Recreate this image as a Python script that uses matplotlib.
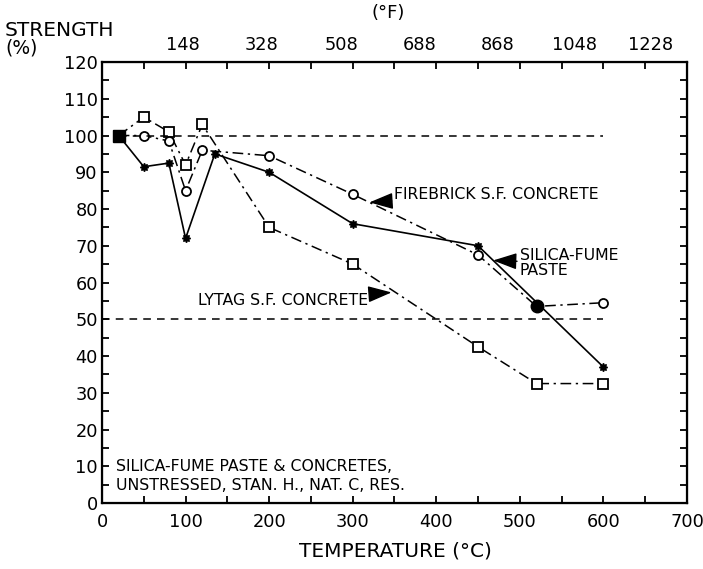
import numpy as np
import matplotlib.pyplot as plt

plt.rcParams['font.family'] = ['DejaVu Sans']

# residual strength (%) vs. exposure temperature (deg C)
temps = [20, 50, 80, 100, 120, 200, 300, 450, 520, 600]
lytag = [100, 105, 101, 92, 103, 75, 65, 42.5, 32.5, 32.5]
firebrick = [100, 100, 98.5, 85, 96, 94.5, 84, 67.5, 53.5, 54.5]

paste_temps = [20, 50, 80, 100, 135, 200, 300, 450, 600]
paste = [100, 91.5, 92.5, 72, 95, 90, 76, 70, 37]

# top scale labels (deg F) and where they sit on the deg C axis
f_labels = ['148', '328', '508', '688', '868', '1048', '1228']
f_pos = [97, 191, 287, 380, 474, 565, 656]

fig = plt.figure(figsize=(7.03, 5.69), dpi=100)
ax = fig.add_axes([0.1451, 0.116, 0.8321, 0.775])

dashdot = (7, 3, 1.5, 3)
ax.plot(temps, lytag, color='k', lw=1.1, dashes=dashdot, marker='s', ms=6.5,
        mfc='white', mec='k', mew=1.3)
ax.plot(temps, firebrick, color='k', lw=1.1, dashes=dashdot, marker='o', ms=6.5,
        mfc='white', mec='k', mew=1.3)
ax.plot(paste_temps, paste, color='k', lw=1.2, marker=(8, 1, 0), ms=6)
# filled markers where the curves coincide
ax.plot(temps[0], lytag[0], 's', color='k', ms=9)
ax.plot(temps[8], firebrick[8], 'o', color='k', ms=9)

# reference levels
ax.plot([20, 600], [100, 100], color='k', lw=1.1, dashes=(5, 4))
ax.plot([0, 600], [50, 50], color='k', lw=1.1, dashes=(5, 4))

arrow = dict(arrowstyle='-|>,head_length=1.3,head_width=0.45', color='k',
             lw=1.0, shrinkA=0, shrinkB=0)
fs = 11.3
ax.annotate('FIREBRICK S.F. CONCRETE', xy=(320, 81.8), xytext=(350, 84),
            fontsize=fs, va='center', ha='left', arrowprops=arrow)
ax.annotate('SILICA-FUME\nPASTE', xy=(468, 66), xytext=(500, 65.3),
            fontsize=fs, va='center', ha='left', linespacing=1.05,
            arrowprops=arrow)
ax.annotate('LYTAG S.F. CONCRETE', xy=(346.5, 57.3), xytext=(318, 55),
            fontsize=fs, va='center', ha='right', arrowprops=arrow)
ax.text(17, 7.35, 'SILICA-FUME PASTE & CONCRETES,\nUNSTRESSED, STAN. H., NAT. C, RES.',
        fontsize=fs, va='center', ha='left', linespacing=1.27)

ax.set_xlim(0, 700)
ax.set_ylim(0, 120)
ax.set_xticks(np.arange(0, 701, 100))
ax.set_xticks(np.arange(50, 700, 100), minor=True)
ax.set_yticks(np.arange(0, 121, 10))
ax.set_yticks(np.arange(5, 120, 10), minor=True)
ax.tick_params(which='both', direction='in', length=5, width=1.3,
               labelsize=12.8, right=True)
ax.tick_params(axis='x', pad=7)
ax.tick_params(axis='y', pad=3)
for s in ax.spines.values():
    s.set_linewidth(1.6)

top = ax.twiny()
top.set_xlim(ax.get_xlim())
top.set_xticks(f_pos)
top.set_xticklabels(f_labels)
top.set_xticks(np.arange(50, 700, 50), minor=True)
top.tick_params(axis='x', which='major', length=0, labelsize=12.8, pad=6)
top.tick_params(axis='x', which='minor', direction='in', length=5, width=1.3)

fig.text(0.007, 0.947, 'STRENGTH', fontsize=14.5, va='center', ha='left')
fig.text(0.007, 0.916, '(%)', fontsize=13.5, va='center', ha='left')
fig.text(0.552, 0.977, '(°F)', fontsize=13, va='center', ha='center')
fig.text(0.562, 0.032, 'TEMPERATURE (°C)', fontsize=14.5, va='center', ha='center')

fig.savefig('out.png', dpi=100)
